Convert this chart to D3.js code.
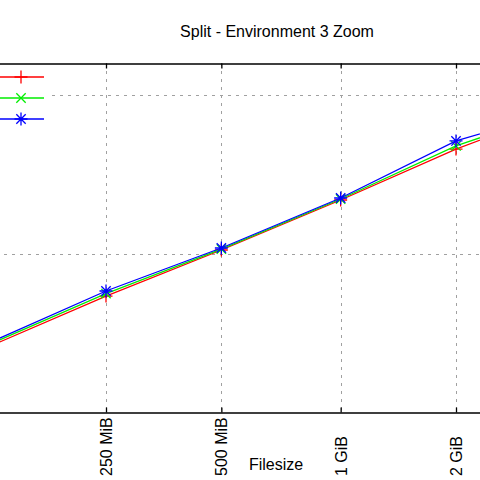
<!DOCTYPE html>
<html><head><meta charset="utf-8">
<script src="https://cdn.jsdelivr.net/npm/d3@7/dist/d3.min.js"></script>
<style>body{margin:0;background:#fff}svg{display:block}</style>
</head><body>
<svg id="c" width="480" height="480"></svg>
<script>
// Data (file size in MiB, time on a log scale)
const sizes = [125, 250, 500, 1024, 2048, 4096];
const tickValues = [250, 500, 1024, 2048];
const tickLabels = ["250 MiB", "500 MiB", "1 GiB", "2 GiB"];
const seriesRed   = [2.61, 5.39, 10.52, 21.75, 45.6, 85.2];
const seriesGreen = [2.69, 5.59, 10.67, 22.07, 47.7, 84.6];
const seriesBlue  = [2.76, 5.80, 10.83, 22.4, 51.3, 84.0];
const yGrid = [10, 100];
const title = "Split - Environment 3 Zoom";
const xLabel = "Filesize";

const svg = d3.select("#c");
const font = "'Liberation Sans', Arial, sans-serif";

const x0 = d3.scaleLog().base(2).domain([250, 2048]).range([106, 456]);
const x = d3.scaleLog().base(2).domain([x0.invert(-20), x0.invert(500)]).range([-20, 500]);
const y0 = d3.scaleLog().domain([1, 100]).range([412, 95]);
const y = d3.scaleLog().domain([1, y0.invert(63)]).range([412, 63]);

// grid
const grid = svg.append("g").attr("stroke", "#a0a0a0").attr("stroke-width", 1).attr("stroke-dasharray", "3,5");
grid.selectAll("line.v").data(tickValues).join("line")
  .attr("x1", d => Math.round(x(d)) + 0.5).attr("x2", d => Math.round(x(d)) + 0.5)
  .attr("y1", y.range()[1]).attr("y2", y.range()[0]);
grid.selectAll("line.h").data(yGrid).join("line")
  .attr("x1", -20).attr("x2", 500)
  .attr("y1", d => Math.round(y(d)) + 0.5).attr("y2", d => Math.round(y(d)) + 0.5);

// axes
const axB = svg.append("g").attr("transform", "translate(0,412.5)")
  .call(d3.axisBottom(x).tickValues(tickValues).tickSize(-5).tickFormat(""));
const axT = svg.append("g").attr("transform", "translate(0,63.5)")
  .call(d3.axisTop(x).tickValues(tickValues).tickSize(-5).tickFormat(""));
[axB, axT].forEach(a => { a.selectAll("path,line").attr("stroke", "#000").attr("stroke-width", 1.3); a.selectAll("text").remove(); });

// rotated tick labels
svg.append("g").selectAll("text").data(tickValues).join("text")
  .attr("transform", d => `translate(${x(d) + 6},476) rotate(-90)`)
  .attr("text-anchor", "start").attr("font-family", font).attr("font-size", 16)
  .text((d, i) => tickLabels[i]);

// lines
const series = [
  {vals: seriesRed, color: "#ff0000", marker: "plus"},
  {vals: seriesGreen, color: "#00ee00", marker: "x"},
  {vals: seriesBlue, color: "#0000ff", marker: "star"}
];
const line = d3.line().x(d => x(d[0])).y(d => y(d[1]));
function markerPath(type, cx, cy, r) {
  const p = d3.path();
  if (type === "plus" || type === "star") { p.moveTo(cx - r, cy); p.lineTo(cx + r, cy); p.moveTo(cx, cy - r); p.lineTo(cx, cy + r); }
  if (type === "x" || type === "star") { const k = r * 0.72; p.moveTo(cx - k, cy - k); p.lineTo(cx + k, cy + k); p.moveTo(cx - k, cy + k); p.lineTo(cx + k, cy - k); }
  return p.toString();
}
series.forEach(s => {
  const pts = sizes.map((v, i) => [v, s.vals[i]]);
  svg.append("path").attr("d", line(pts)).attr("fill", "none").attr("stroke", s.color).attr("stroke-width", 1.3);
  svg.append("g").selectAll("path").data(pts).join("path")
    .attr("d", d => markerPath(s.marker, x(d[0]), y(d[1]), 6.5))
    .attr("stroke", s.color).attr("stroke-width", 1.3).attr("fill", "none");
});

// legend
const lg = svg.append("g");
lg.append("rect").attr("x", -10).attr("y", 66).attr("width", 62).attr("height", 64).attr("fill", "#fff");
series.forEach((s, i) => {
  const ly = 77 + i * 21;
  lg.append("line").attr("x1", -5).attr("x2", 44).attr("y1", ly).attr("y2", ly).attr("stroke", s.color).attr("stroke-width", 1.3);
  lg.append("path").attr("d", markerPath(s.marker, 21, ly, 6.5)).attr("stroke", s.color).attr("stroke-width", 1.3).attr("fill", "none");
});

// title and labels
svg.append("text").attr("x", 277).attr("y", 37).attr("text-anchor", "middle")
  .attr("font-family", font).attr("font-size", 16).text(title);
svg.append("text").attr("x", 276).attr("y", 470).attr("text-anchor", "middle")
  .attr("font-family", font).attr("font-size", 16).text(xLabel);
</script>
</body></html>
